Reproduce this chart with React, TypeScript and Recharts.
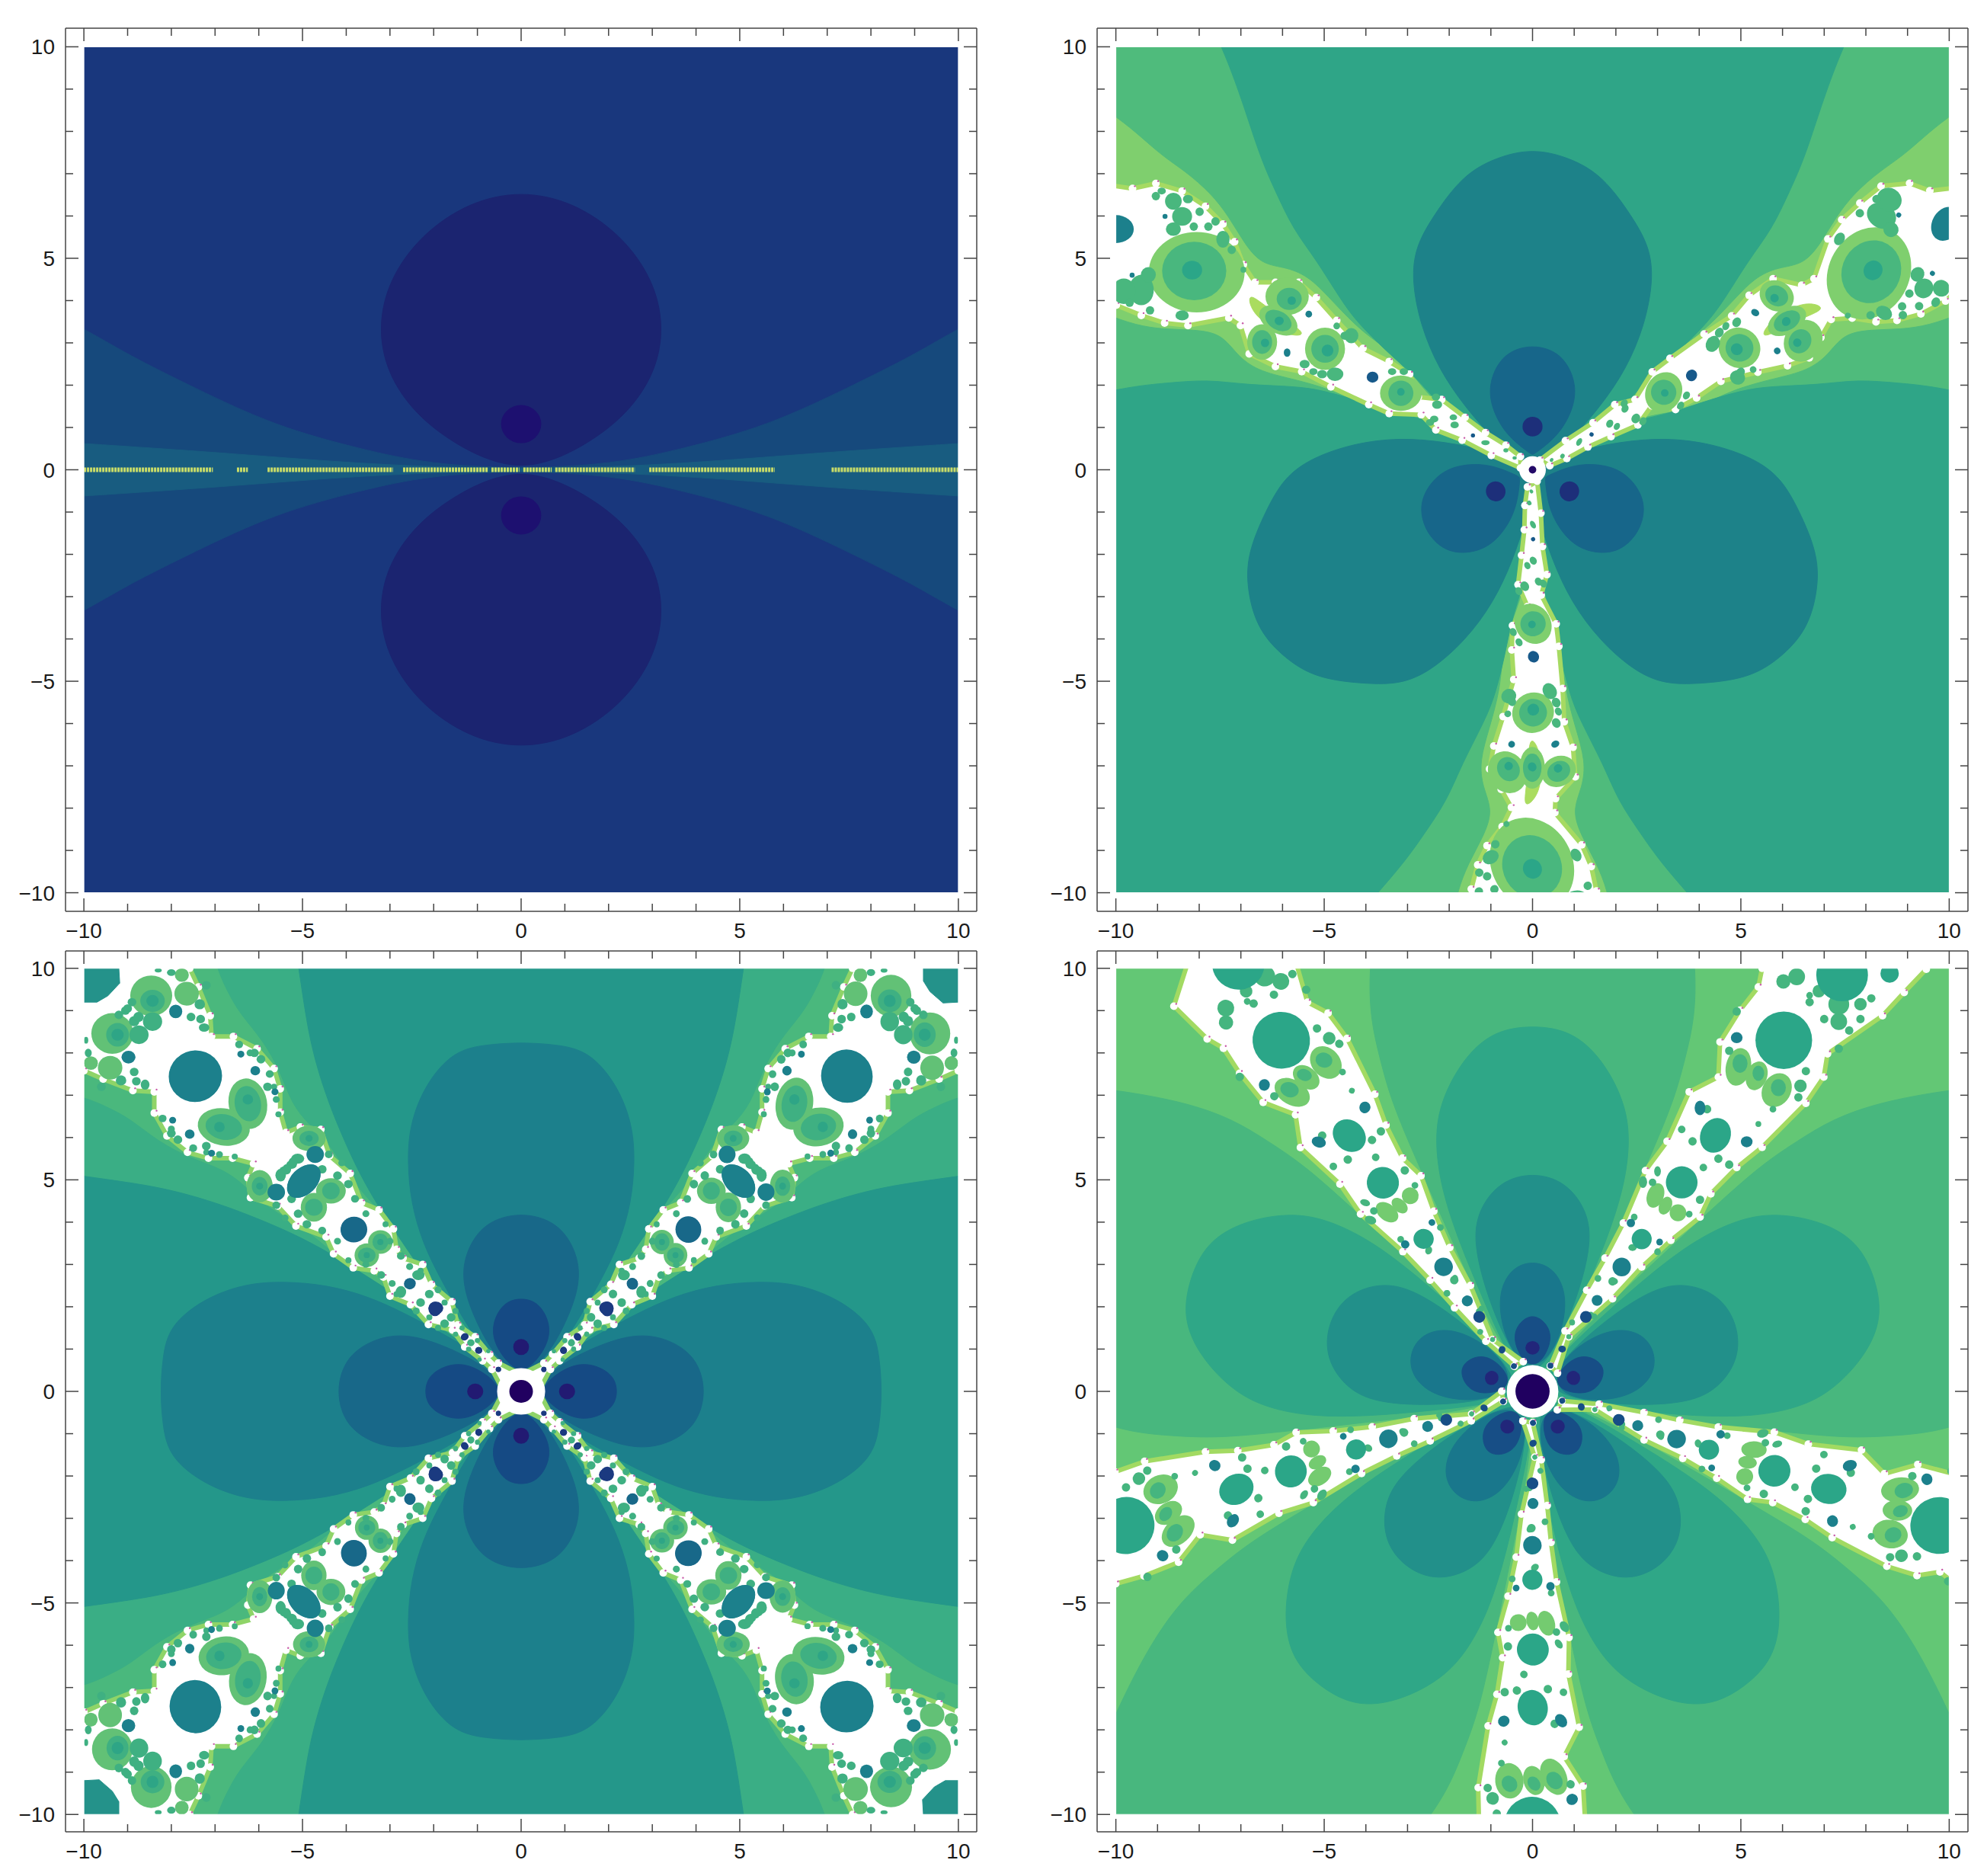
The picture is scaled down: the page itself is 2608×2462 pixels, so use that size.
import React from 'react';
import { ScatterChart, Scatter, XAxis, YAxis } from 'recharts';

type P = number[];

// tick positions shared by all four frames
const tickValues = [-10, -9, -8, -7, -6, -5, -4, -3, -2, -1, 0, 1, 2, 3, 4, 5, 6, 7, 8, 9, 10];
const labelled = [-10, -5, 0, 5, 10];

// ---- top left panel
const p1BandA: P[] = [[-11.5, 4.1], [-10, 3.35], [-9, 2.72], [-7.5, 1.95], [-5.63, 1.03], [-3.68, 0.49], [-2.1, 0.13], [0, 0.02]];
const p1BandB: P[] = [[-11.5, 0.72], [-10, 0.62], [-7.5, 0.45], [-5.63, 0.3], [-3.03, 0.1], [0, 0.01]];
const p1Disc: P[] = [[0, 6.6], [1.2, 6.33], [2.3, 5.55], [3.02, 4.5], [3.27, 3.4], [3.08, 2.3], [2.42, 1.3], [1.5, 0.6], [0.7, 0.2], [0, 0.06]];
const p1Dots: P[] = [[0, 1.08, 0.46, 0.45], [0, -1.08, 0.46, 0.45]];
const p1Segments: P[] = [[-10, -7.05], [-6.5, -6.25], [-5.8, -2.93], [-2.7, -0.75], [-0.68, -0.04], [0.05, 0.7], [0.78, 2.6], [2.93, 5.8], [7.1, 10]];

// ---- top right panel, three fold
const p2Outer: P[] = [[-14, 20], [-12, 9.5], [-10, 8.44], [-9, 7.49], [-8.34, 7.07], [-7.71, 6.53], [-7.29, 5.99], [-6.94, 5.39], [-6.52, 4.85], [-5.89, 4.79], [-5.33, 4.55], [-4.77, 3.95], [-4.07, 3.23], [-3.3, 2.74], [-2.88, 2.26], [-2.46, 1.72], [-1.69, 1.06], [-0.99, 0.46], [0, 0]];
const p2Wedge: P[] = [[-8, 20], [-8.7, 12.3], [-7.36, 10], [-6.59, 7.49], [-6.17, 6.59], [-5.75, 5.69], [-5.19, 4.97], [-4.56, 3.95], [-4.14, 3.41], [-3.37, 2.68], [-2.81, 2.2], [-2.18, 1.48], [-0.99, 0.4], [0, 0]];
const p2LobeA: P[] = [[0, 7.6], [-0.9, 7.38], [-1.69, 6.95], [-2.39, 5.99], [-2.81, 5.27], [-2.9, 4.49], [-2.69, 3.41], [-2.25, 2.38], [-1.62, 1.48], [-0.92, 0.7], [-0.29, 0.19], [0, 0.1]];
const p2LobeB: P[] = [[0, 2.98], [-0.71, 2.76], [-1.05, 2.08], [-1.0, 1.48], [-0.64, 0.82], [-0.08, 0.4], [0, 0.35]];
const p2Arm: P[] = [[-12, 7], [-9.6, 6.65], [-9.04, 6.77], [-8.41, 6.59], [-7.85, 6.23], [-7.43, 5.81], [-7.15, 5.39], [-6.94, 4.85], [-6.66, 4.43], [-6.17, 4.43], [-5.61, 4.43], [-5.19, 4.07], [-4.7, 3.53], [-4.07, 2.87], [-3.44, 2.56], [-2.95, 2.26], [-2.74, 1.72], [-2.18, 1.66], [-1.62, 1.24], [-1.13, 0.88], [-0.64, 0.58], [-0.29, 0.31], [-0.29, 0.04], [-0.99, 0.34], [-1.69, 0.7], [-2.32, 0.94], [-2.67, 1.3], [-3.44, 1.33], [-3.93, 1.54], [-4.84, 1.96], [-5.54, 2.32], [-6.17, 2.44], [-6.8, 2.74], [-7.01, 3.41], [-7.29, 3.59], [-8.27, 3.41], [-8.83, 3.47], [-9.39, 3.65], [-9.99, 3.89], [-10.39, 4.45], [-10.48, 4.96]];
const p2Glow: P[] = [[-6.87, 4.25], [-6.38, 3.83], [-5.61, 3.35], [-5.47, 3.17], [-5.89, 3.17], [-6.73, 3.62]];
const p2Pale: P[] = [[-8.06, 4.67, 1.15, 0.95], [-5.89, 4.1, 0.52, 0.44], [-6.1, 3.53, 0.5, 0.3, -30], [-6.49, 3.02, 0.36, 0.42], [-4.98, 2.86, 0.48, 0.5], [-3.16, 1.81, 0.5, 0.42]];
const p2Mid: P[] = [[-8.12, 4.7, 0.77, 0.69], [-5.84, 4.04, 0.3, 0.26], [-6.1, 3.53, 0.34, 0.22, -30], [-6.49, 3.02, 0.24, 0.28], [-4.98, 2.86, 0.33, 0.33], [-3.16, 1.81, 0.3, 0.3], [-8.41, 5.99, 0.24, 0.22], [-8.62, 6.35, 0.2, 0.2], [-8.62, 5.69, 0.18, 0.16], [-9.39, 4.25, 0.3, 0.36], [-9.81, 4.22, 0.28, 0.3], [-9.22, 4.61, 0.18, 0.18], [-7.43, 5.45, 0.16, 0.2], [-8.41, 3.65, 0.16, 0.12], [-4.35, 3.17, 0.17, 0.18], [-4.74, 2.26, 0.2, 0.16], [-2.29, 1.54, 0.12, 0.1], [-2.36, 1.2, 0.1, 0.08], [-1.87, 1.06, 0.1, 0.08], [-1.13, 0.64, 0.1, 0.06], [-7.61, 5.87, 0.1, 0.1]];
const p2Flecks: P[] = [[-9.04, 6.47, 0.1, 0.1], [-8.9, 6.59, 0.1, 0.08], [-8.27, 6.4, 0.12, 0.1], [-7.99, 6.1, 0.1, 0.1], [-8.13, 5.75, 0.1, 0.1], [-7.78, 5.75, 0.1, 0.1], [-7.22, 5.2, 0.1, 0.1], [-6.94, 4.73, 0.07, 0.07], [-9.18, 3.77, 0.1, 0.1], [-9.67, 3.95, 0.1, 0.1], [-4.49, 3.17, 0.12, 0.1], [-4.7, 3.4, 0.08, 0.08], [-5.47, 2.5, 0.12, 0.1], [-5.05, 2.26, 0.12, 0.1], [-5.26, 2.32, 0.1, 0.08], [-3.37, 2.32, 0.1, 0.08], [-3.09, 2.32, 0.1, 0.08], [-2.32, 1.72, 0.1, 0.08], [-2.46, 1.12, 0.1, 0.08], [-1.9, 1.24, 0.09, 0.07], [-0.64, 0.46, 0.06, 0.05], [-0.43, 0.28, 0.05, 0.04]];
const p2Core: P[] = [[-8.17, 4.72, 0.24, 0.22], [-5.78, 4.0, 0.1, 0.1], [-6.08, 3.52, 0.11, 0.1], [-6.42, 3.0, 0.1, 0.1], [-4.92, 2.82, 0.14, 0.14], [-3.16, 1.84, 0.09, 0.09]];
const p2Teal: P[] = [[-10, 5.69, 0.43, 0.33], [-8.82, 5.99, 0.06, 0.06], [-9.61, 4.6, 0.06, 0.06], [-5.37, 3.68, 0.08, 0.08], [-5.89, 2.77, 0.08, 0.1]];
const p2Dark: P[] = [[-3.84, 2.19, 0.14, 0.13], [-1.43, 0.81, 0.05, 0.05]];
const p2Dot: P[] = [[0, 1.02, 0.24, 0.23]];

// ---- lower left panel, four fold
const p3Band: P[] = [[-7.3, 11.4], [-6.97, 10], [-6.7, 9.43], [-6.45, 8.95], [-5.9, 8.3], [-5.5, 7.55], [-5.25, 6.8], [-4.85, 6.3], [-4.4, 5.9], [-3.8, 4.87], [-3.25, 4.3], [-2.9, 3.8], [-2.3, 3.1], [-1.4, 1.9], [-0.5, 0.6], [0, 0]];
const p3Wedge: P[] = [[-5.3, 11.4], [-5.08, 10], [-4.85, 8.3], [-4.5, 7.1], [-4.2, 6.3], [-3.8, 5.36], [-3.4, 4.6], [-3, 3.95], [-2.5, 3.2], [-2.05, 2.5], [-1.65, 2.05], [-0.85, 0.95], [0, 0]];
const p3LobeA: P[] = [[0, 8.25], [-0.8, 8.2], [-1.55, 8.05], [-2.2, 7.25], [-2.55, 6.3], [-2.6, 5.43], [-2.52, 4.46], [-2.25, 3.5], [-1.85, 2.67], [-1.32, 1.7], [-0.58, 0.52], [0, 0.2]];
const p3LobeB: P[] = [[0, 4.25], [-0.85, 4.0], [-1.27, 3.3], [-1.35, 2.67], [-1.18, 1.98], [-0.72, 1.0], [-0.25, 0.5], [0, 0.4]];
const p3LobeC: P[] = [[0, 2.22], [-0.42, 2.1], [-0.68, 1.57], [-0.6, 1.08], [-0.25, 0.6], [0, 0.5]];
const p3Arm: P[] = [[-11, 11], [-8, 11], [-7.58, 10], [-7.38, 9.56], [-7.11, 8.88], [-7.08, 8.39], [-6.58, 8.39], [-6.04, 8.1], [-5.65, 7.63], [-5.51, 7.15], [-5.51, 6.6], [-5.38, 6.12], [-5.05, 6.25], [-4.58, 6.19], [-4.38, 5.57], [-3.91, 5.15], [-3.65, 4.46], [-3.25, 4.29], [-2.92, 3.84], [-2.85, 3.36], [-2.7, 3.15], [-2.25, 3.0], [-2.05, 2.53], [-1.58, 2.12], [-1.45, 1.57], [-1.05, 1.29], [-0.72, 0.88], [-0.52, 0.67], [0, 0.4]];
const p3Corner: P[] = [[-10, 10], [-9.2, 10], [-9.18, 9.65], [-9.45, 9.35], [-9.7, 9.2], [-10, 9.2]];
const p3Pale: P[] = [[-6.25, 6.8, 0.44, 0.6, 10], [-8.46, 9.35, 0.48, 0.48], [-7.65, 9.4, 0.28, 0.28], [-4.85, 5.98, 0.38, 0.3], [-4.35, 4.74, 0.34, 0.3], [-3.22, 3.53, 0.28, 0.28], [-7.76, 9.84, 0.16, 0.16]];
const p3Mid: P[] = [[-6.25, 6.8, 0.3, 0.42, 10], [-8.43, 8.74, 0.22, 0.22], [-8.43, 9.23, 0.28, 0.26], [-4.85, 5.98, 0.22, 0.18], [-4.35, 4.74, 0.2, 0.2], [-3.22, 3.53, 0.18, 0.2], [-7.33, 8.8, 0.1, 0.1], [-5.11, 5.5, 0.15, 0.12], [-5.25, 5.36, 0.12, 0.1], [-5.41, 5.22, 0.12, 0.1], [-6.1, 8.0, 0.1, 0.1], [-5.8, 7.2, 0.1, 0.1], [-2.35, 2.75, 0.14, 0.12], [-2.1, 2.3, 0.1, 0.1], [-1.6, 1.75, 0.1, 0.1], [-1.15, 1.15, 0.08, 0.08]];
const p3Flecks: P[] = [[-7.2, 9.6, 0.1, 0.1], [-7.35, 9.15, 0.12, 0.12], [-7.55, 8.85, 0.1, 0.1], [-7.25, 8.6, 0.12, 0.1], [-8.0, 9.9, 0.1, 0.08], [-8.3, 9.95, 0.08, 0.05], [-8.9, 9.2, 0.1, 0.1], [-8.85, 8.75, 0.12, 0.12], [-9.05, 9.0, 0.1, 0.1], [-6.45, 8.2, 0.09, 0.09], [-6.2, 8.0, 0.08, 0.08], [-5.95, 7.85, 0.1, 0.1], [-5.75, 7.5, 0.09, 0.09], [-5.65, 7.2, 0.07, 0.07], [-5.6, 6.9, 0.08, 0.08], [-5.55, 6.55, 0.07, 0.07], [-4.55, 5.25, 0.1, 0.1], [-4.2, 5.1, 0.1, 0.1], [-3.95, 4.9, 0.1, 0.1], [-3.8, 4.55, 0.09, 0.09], [-4.4, 5.6, 0.09, 0.09], [-4.1, 5.4, 0.08, 0.08], [-3.55, 4.2, 0.08, 0.08], [-3.1, 3.95, 0.07, 0.07], [-3.0, 3.55, 0.08, 0.08], [-2.75, 3.2, 0.09, 0.09], [-2.55, 2.95, 0.08, 0.08], [-2.3, 2.85, 0.07, 0.07], [-1.9, 2.4, 0.08, 0.08], [-1.75, 2.1, 0.07, 0.07], [-1.5, 1.9, 0.07, 0.07], [-1.35, 1.5, 0.06, 0.06], [-1.0, 1.2, 0.06, 0.06], [-0.75, 0.95, 0.05, 0.05]];
const p3Core: P[] = [[-6.25, 6.9, 0.12, 0.12], [-8.43, 9.23, 0.14, 0.14], [-4.85, 5.98, 0.08, 0.08], [-3.22, 3.53, 0.07, 0.07]];
const p3Teal: P[] = [[-7.44, 7.46, 0.6, 0.6], [-7.9, 8.98, 0.15, 0.16], [-4.71, 5.6, 0.2, 0.2], [-4.97, 4.97, 0.46, 0.3, 45], [-6.08, 7.58, 0.11, 0.11], [-5.63, 7.08, 0.08, 0.08], [-6.41, 7.97, 0.08, 0.08]];
const p3Blue: P[] = [[-3.83, 3.82, 0.3, 0.3], [-2.55, 2.54, 0.13, 0.13]];
const p3Navy: P[] = [[-1.95, 1.97, 0.17, 0.15], [-1.3, 1.28, 0.08, 0.08], [-0.97, 0.97, 0.08, 0.08], [-0.52, 0.52, 0.06, 0.06]];
const p3Dot: P[] = [[0, 1.05, 0.18, 0.19]];

// ---- lower right panel, five fold
const p4Wedge: P[] = [[0, 16], [-3.2, 14], [-3.7, 11.7], [-3.93, 10], [-3.89, 8.8], [-3.67, 7.9], [-3.4, 6.88], [-2.8, 5.5], [-2.27, 4.32], [-1.74, 3.15], [-0.95, 1.43], [-0.34, 0.53], [0, 0]];
const p4LobeA: P[] = [[0, 8.66], [-0.95, 8.52], [-1.67, 7.86], [-2.2, 6.88], [-2.35, 5.98], [-2.2, 4.81], [-1.75, 3.5], [-1.22, 2.26], [-0.52, 0.67], [0, 0.3]];
const p4LobeB: P[] = [[0, 5.18], [-0.8, 4.96], [-1.32, 4.26], [-1.41, 3.5], [-1.13, 2.39], [-0.69, 1.29], [-0.25, 0.6], [0, 0.5]];
const p4LobeC: P[] = [[0, 3.1], [-0.54, 2.9], [-0.84, 2.26], [-0.7, 1.36], [-0.34, 0.74], [0, 0.6]];
const p4LobeD: P[] = [[0, 1.85], [-0.36, 1.6], [-0.47, 1.22], [-0.25, 0.74], [0, 0.6]];
const p4Arm: P[] = [[0.43, 0.6], [0.78, 1.43], [1.3, 2.39], [1.74, 3.15], [2.18, 3.98], [2.71, 5.22], [3.23, 5.91], [3.76, 7.08], [4.46, 7.43], [4.5, 8.26], [4.98, 9.01], [5.42, 9.56], [5.51, 10], [6, 11], [10.4, 11], [9.45, 9.98], [8.92, 9.43], [8.4, 8.88], [7.08, 7.98], [6.99, 7.43], [6.56, 6.81], [5.51, 5.77], [4.9, 5.29], [4.28, 4.67], [4.02, 4.12], [3.32, 3.57], [2.62, 2.94], [1.92, 2.19], [0.87, 1.29], [0.6, 0.43]];
const p4Pale: P[] = [[4.94, 7.67, 0.3, 0.45, -12], [5.38, 7.46, 0.25, 0.35, -20], [5.86, 7.12, 0.34, 0.42, -30], [2.95, 4.63, 0.2, 0.3, -20], [3.19, 4.39, 0.15, 0.22, -25], [3.49, 4.22, 0.2, 0.2]];
const p4Mid: P[] = [[4.98, 7.75, 0.18, 0.22], [5.42, 7.52, 0.14, 0.18], [5.9, 7.18, 0.18, 0.2], [7.35, 8.74, 0.2, 0.2], [6.43, 7.22, 0.15, 0.15], [6.02, 9.69, 0.17, 0.17], [7.35, 9.15, 0.25, 0.25], [6.87, 9.46, 0.15, 0.15], [6.34, 9.8, 0.2, 0.2], [2.65, 4.95, 0.1, 0.14], [3.0, 5.2, 0.08, 0.12], [2.4, 3.4, 0.1, 0.08], [3.0, 3.3, 0.08, 0.08], [1.95, 2.6, 0.1, 0.08], [1.4, 1.8, 0.08, 0.08]];
const p4Flecks: P[] = [[6.65, 9.2, 0.1, 0.1], [7.87, 9.15, 0.15, 0.15], [8.13, 9.29, 0.1, 0.1], [7.87, 8.8, 0.1, 0.1], [7.6, 8.53, 0.1, 0.1], [7.35, 8.1, 0.1, 0.1], [7, 8.8, 0.1, 0.1], [6.65, 9.36, 0.08, 0.08], [4.9, 8.98, 0.1, 0.1], [4.72, 8.05, 0.1, 0.1], [6.56, 7.57, 0.1, 0.1], [6.38, 6.95, 0.1, 0.1], [5.77, 6.67, 0.08, 0.08], [5.42, 6.32, 0.07, 0.07], [4.19, 6.67, 0.1, 0.1], [3.84, 5.91, 0.1, 0.1], [3.58, 6.19, 0.09, 0.09], [4.46, 5.5, 0.1, 0.1], [4.72, 5.36, 0.1, 0.1], [4.1, 5.29, 0.09, 0.09], [2.88, 4.94, 0.09, 0.09], [4.02, 4.53, 0.1, 0.1], [3.76, 4.19, 0.08, 0.08], [2.44, 4.12, 0.08, 0.08], [1.92, 2.6, 0.1, 0.1], [1.57, 2.67, 0.08, 0.08], [1.48, 1.77, 0.07, 0.07], [0.95, 1.63, 0.07, 0.07], [0.87, 1.29, 0.06, 0.06]];
const p4Green: P[] = [[6.03, 8.3, 0.68, 0.68], [7.43, 9.84, 0.62, 0.62], [4.39, 6.05, 0.36, 0.42, -25], [8.57, 9.88, 0.22, 0.22], [3.58, 4.94, 0.38, 0.38], [2.62, 3.6, 0.24, 0.24]];
const p4Teal: P[] = [[4.02, 6.7, 0.13, 0.17], [5.14, 5.9, 0.14, 0.13], [4.9, 8.36, 0.14, 0.13], [2.36, 3.98, 0.1, 0.1], [3.05, 3.53, 0.08, 0.08], [2.14, 2.94, 0.22, 0.22], [1.55, 2.15, 0.13, 0.13]];
const p4Navy: P[] = [[1.28, 1.76, 0.14, 0.14], [0.71, 1.0, 0.09, 0.08], [0.43, 0.61, 0.07, 0.07]];
const p4Dot: P[] = [[0, 1.03, 0.17, 0.16]];

const rotatePoint = ([x, y, ...rest]: P, deg: number): P => {
  const t = (deg * Math.PI) / 180;
  const out = [x * Math.cos(t) - y * Math.sin(t), x * Math.sin(t) + y * Math.cos(t)];
  if (!rest.length) return out;
  return [...out, rest[0], rest[1], (rest[2] || 0) + deg];
};
// the picture repeats under rotation, so an outline read once is reused for each arm or lobe
const spin = (pts: P[], n: number) => Array.from({ length: n }, (_, i) => pts.map(p => rotatePoint(p, (i * 360) / n)));
const mirrorX = (pts: P[]) => pts.map(([x, y]) => [-x, y]);
const mirrorY = (pts: P[]) => pts.map(([x, y]) => [x, -y]);
// points on the axis would come twice and pinch the spline, so the mirrored half skips them
const sides = (half: P[]) => [...half, ...mirrorX(half).reverse().filter(([x]) => x !== 0)];
const lens = (quarter: P[]) => [...sides(quarter), ...mirrorY(sides(quarter)).reverse()];
const alongDiagonal = (pts: P[]) => [...pts, ...[...pts].reverse().map(([x, y]) => [-y, -x])];
const diagonalPair = (pts: P[]) => [...pts, ...pts.map(([x, y, rx, ry, a]) => [-y, -x, ry, rx, a ? -a : 0])];
const toXY = (pts: P[]) => pts.map(([x, y]) => ({ x, y }));
const close = (pts: P[]) => toXY([...pts, pts[0]]);

type Fill = { color: string; outline: P[]; edge?: string; sharp?: boolean };
type Spots = { color: string; spots: P[] };
type Spec = {
  frame: number[];
  xExtent: number;
  yExtent: number;
  base: string;
  fills: Fill[];
  spots: Spots[];
  segments?: P[];
};

const many = (color: string, outlines: P[][], edge?: string, sharp?: boolean): Fill[] =>
  outlines.map(outline => ({ color, outline, edge, sharp: sharp || !!edge }));

const panel1: Spec = {
  frame: [86, 37, 1196, 1159],
  xExtent: 10.42,
  yExtent: 10.44,
  base: '#19377d',
  fills: [
    { color: '#16497c', outline: lens(p1BandA) },
    { color: '#185c80', outline: lens(p1BandB) },
    { color: '#1b2470', outline: sides(p1Disc) },
    { color: '#1b2470', outline: mirrorY(sides(p1Disc)) },
  ],
  spots: [{ color: '#1d1070', spots: p1Dots }],
  segments: p1Segments,
};

const panel2: Spec = {
  frame: [1440, 37, 1143, 1159],
  xExtent: 10.45,
  yExtent: 10.44,
  base: '#7fcf6e',
  fills: [
    ...many('#4fbb7c', spin(sides(p2Outer), 3)),
    ...many('#2fa587', spin(sides(p2Wedge), 3)),
    ...many('#1d8289', spin(sides(p2LobeA), 3)),
    ...many('#17668a', spin(sides(p2LobeB), 3)),
    ...many('#ffffff', spin(p2Arm, 3), '#a6da62'),
    ...many('#aadc5f', spin(p2Glow, 3)),
  ],
  spots: [
    { color: '#7fcf6e', spots: spin(p2Pale, 3).flat() },
    { color: '#49b77e', spots: [...spin(p2Mid, 3).flat(), ...spin(p2Flecks, 3).flat()] },
    { color: '#2ba688', spots: spin(p2Core, 3).flat() },
    { color: '#1c808c', spots: spin(p2Teal, 3).flat() },
    { color: '#17598a', spots: spin(p2Dark, 3).flat() },
    { color: '#1d2f7a', spots: spin(p2Dot, 3).flat() },
    { color: '#ffffff', spots: [[0, 0, 0.32, 0.32]] },
    { color: '#240a68', spots: [[0, 0, 0.09, 0.09]] },
  ],
};

const panel3: Spec = {
  frame: [86, 1248, 1196, 1156],
  xExtent: 10.42,
  yExtent: 10.41,
  base: '#4ab87d',
  fills: [
    ...many('#3aae85', spin(sides(p3Band), 4)),
    ...many('#24978a', spin(sides(p3Wedge), 4)),
    ...many('#1c808c', spin(sides(p3LobeA), 4)),
    ...many('#186889', spin(sides(p3LobeB), 4)),
    ...many('#154a84', spin(sides(p3LobeC), 4)),
    ...many('#ffffff', spin(alongDiagonal(p3Arm), 4), '#8fd468'),
    ...many('#24928a', spin(p3Corner, 4), undefined, true),
  ],
  spots: [
    { color: '#62c176', spots: spin(diagonalPair(p3Pale), 4).flat() },
    { color: '#3fb082', spots: [...spin(diagonalPair(p3Mid), 4).flat(), ...spin(diagonalPair(p3Flecks), 4).flat()] },
    { color: '#2ea586', spots: spin(diagonalPair(p3Core), 4).flat() },
    { color: '#1c808c', spots: spin(diagonalPair(p3Teal), 4).flat() },
    { color: '#186889', spots: spin(diagonalPair(p3Blue), 4).flat() },
    { color: '#1b3a80', spots: spin(diagonalPair(p3Navy), 4).flat() },
    { color: '#221a72', spots: spin(p3Dot, 4).flat() },
    { color: '#ffffff', spots: [[0, 0, 0.55, 0.55]] },
    { color: '#210060', spots: [[0, 0, 0.27, 0.27]] },
  ],
};

const panel4: Spec = {
  frame: [1440, 1248, 1143, 1156],
  xExtent: 10.45,
  yExtent: 10.41,
  base: '#63c775',
  fills: [
    ...many('#48b77e', spin(sides(p4Wedge), 5)),
    ...many('#2fa787', spin(sides(p4LobeA), 5)),
    ...many('#22908a', spin(sides(p4LobeB), 5)),
    ...many('#19778c', spin(sides(p4LobeC), 5)),
    ...many('#174e86', spin(sides(p4LobeD), 5)),
    ...many('#ffffff', spin(p4Arm, 5), '#a2da62'),
  ],
  spots: [
    { color: '#74cb70', spots: spin(p4Pale, 5).flat() },
    { color: '#45b57f', spots: [...spin(p4Mid, 5).flat(), ...spin(p4Flecks, 5).flat()] },
    { color: '#2ba688', spots: spin(p4Green, 5).flat() },
    { color: '#1c808c', spots: spin(p4Teal, 5).flat() },
    { color: '#174e86', spots: spin(p4Navy, 5).flat() },
    { color: '#22267a', spots: spin(p4Dot, 5).flat() },
    { color: '#ffffff', spots: [[0, 0, 0.62, 0.62]] },
    { color: '#200060', spots: [[0, 0, 0.41, 0.41]] },
  ],
};

const panels = [panel1, panel2, panel3, panel4];

const MARGIN = { top: 5, left: 80, right: 5, bottom: 50 };
const FRAME = '#444';
const hidden = () => <g />;
const bump = (p: any) => (
  <g>
    <circle cx={p.cx} cy={p.cy} r={5} fill="#fff" />
    <circle cx={p.cx + 3} cy={p.cy - 3} r={1.2} fill="#c85aa8" />
  </g>
);

const FrameTick = ({ x, y, payload, side }: any) => {
  const major = labelled.includes(payload.value);
  const len = major ? 17 : 10;
  const dir = { bottom: [0, -len], top: [0, len], left: [len, 0], right: [-len, 0] }[side as string] as number[];
  const text = String(payload.value).replace('-', '\u2212');
  return (
    <g>
      <line x1={x} y1={y} x2={x + dir[0]} y2={y + dir[1]} stroke={FRAME} strokeWidth={1.5} />
      {major && side === 'bottom' && (
        <text x={x} y={y + 35} textAnchor="middle" fontSize={28} fontFamily="Liberation Sans" fill="#1a1a1a">{text}</text>
      )}
      {major && side === 'left' && (
        <text x={x - 14} y={y + 10} textAnchor="end" fontSize={28} fontFamily="Liberation Sans" fill="#1a1a1a">{text}</text>
      )}
    </g>
  );
};

const Panel = ({ spec }: { spec: Spec }) => {
  const [fx, fy, fw, fh] = spec.frame;
  const xDom = [-spec.xExtent, spec.xExtent];
  const yDom = [-spec.yExtent, spec.yExtent];
  const sx = fw / (2 * spec.xExtent);
  const sy = fh / (2 * spec.yExtent);
  const strips: P[][] = [
    [[xDom[0], 10], [xDom[1], 10], [xDom[1], yDom[1]], [xDom[0], yDom[1]]],
    [[xDom[0], -10], [xDom[1], -10], [xDom[1], yDom[0]], [xDom[0], yDom[0]]],
    [[-10, yDom[0]], [xDom[0], yDom[0]], [xDom[0], yDom[1]], [-10, yDom[1]]],
    [[10, yDom[0]], [xDom[1], yDom[0]], [xDom[1], yDom[1]], [10, yDom[1]]],
  ];
  const solid = (color: string, edge?: string, width = 1) => ({ fill: color, stroke: edge || color, strokeWidth: width });
  const axisBits = { type: 'number' as const, allowDataOverflow: true, ticks: tickValues, interval: 0, tickSize: 0, tickMargin: 0, tickLine: false, stroke: FRAME, strokeWidth: 1.5, zIndex: 900 };

  return (
    <div style={{ position: 'absolute', left: fx - MARGIN.left - 1, top: fy - MARGIN.top - 1 }}>
      <ScatterChart width={fw + MARGIN.left + MARGIN.right + 2} height={fh + MARGIN.top + MARGIN.bottom + 2} margin={MARGIN}>
        <Scatter data={close([[-10, 10], [10, 10], [10, -10], [-10, -10]])} line={solid(spec.base)} shape={hidden} isAnimationActive={false} />
        {spec.fills.map((f, i) => (
          <Scatter
            key={`fill-${i}`}
            data={f.sharp ? close(f.outline) : toXY(f.outline)}
            line={solid(f.color, f.edge, f.edge ? 6 : 1)}
            lineJointType={f.sharp ? 'linear' : 'basisClosed'}
            shape={f.edge ? bump : hidden}
            isAnimationActive={false}
          />
        ))}
        {spec.spots.map((group, i) => (
          <Scatter
            key={`spots-${i}`}
            data={group.spots.map(([x, y, rx, ry, a]) => ({ x, y, rx, ry, a: a || 0 }))}
            isAnimationActive={false}
            shape={(p: any) => (
              <ellipse
                cx={p.cx}
                cy={p.cy}
                rx={p.payload.rx * sx}
                ry={p.payload.ry * sy}
                fill={group.color}
                transform={`rotate(${-p.payload.a} ${p.cx} ${p.cy})`}
              />
            )}
          />
        ))}
        {(spec.segments || []).map(([a, b], i) => (
          <Scatter
            key={`seg-${i}`}
            data={[{ x: a, y: 0 }, { x: b, y: 0 }]}
            line={{ stroke: '#c8dc68', strokeWidth: 6, strokeDasharray: '3 1', fill: 'none' }}
            shape={hidden}
            isAnimationActive={false}
          />
        ))}
        {strips.map((s, i) => (
          <Scatter key={`strip-${i}`} data={close(s)} line={solid('#ffffff')} shape={hidden} isAnimationActive={false} />
        ))}
        <XAxis {...axisBits} dataKey="x" domain={xDom} height={1} tick={<FrameTick side="bottom" />} />
        <YAxis {...axisBits} dataKey="y" domain={yDom} width={1} tick={<FrameTick side="left" />} />
        <XAxis {...axisBits} xAxisId="top" orientation="top" dataKey="x" domain={xDom} height={1} tick={<FrameTick side="top" />} />
        <YAxis {...axisBits} yAxisId="right" orientation="right" dataKey="y" domain={yDom} width={1} tick={<FrameTick side="right" />} />
      </ScatterChart>
    </div>
  );
};

export default function App() {
  return (
    <div style={{ position: 'absolute', left: 0, top: 0, width: 2608, height: 2462, background: '#fff' }}>
      {panels.map((spec, i) => <Panel key={i} spec={spec} />)}
    </div>
  );
}
